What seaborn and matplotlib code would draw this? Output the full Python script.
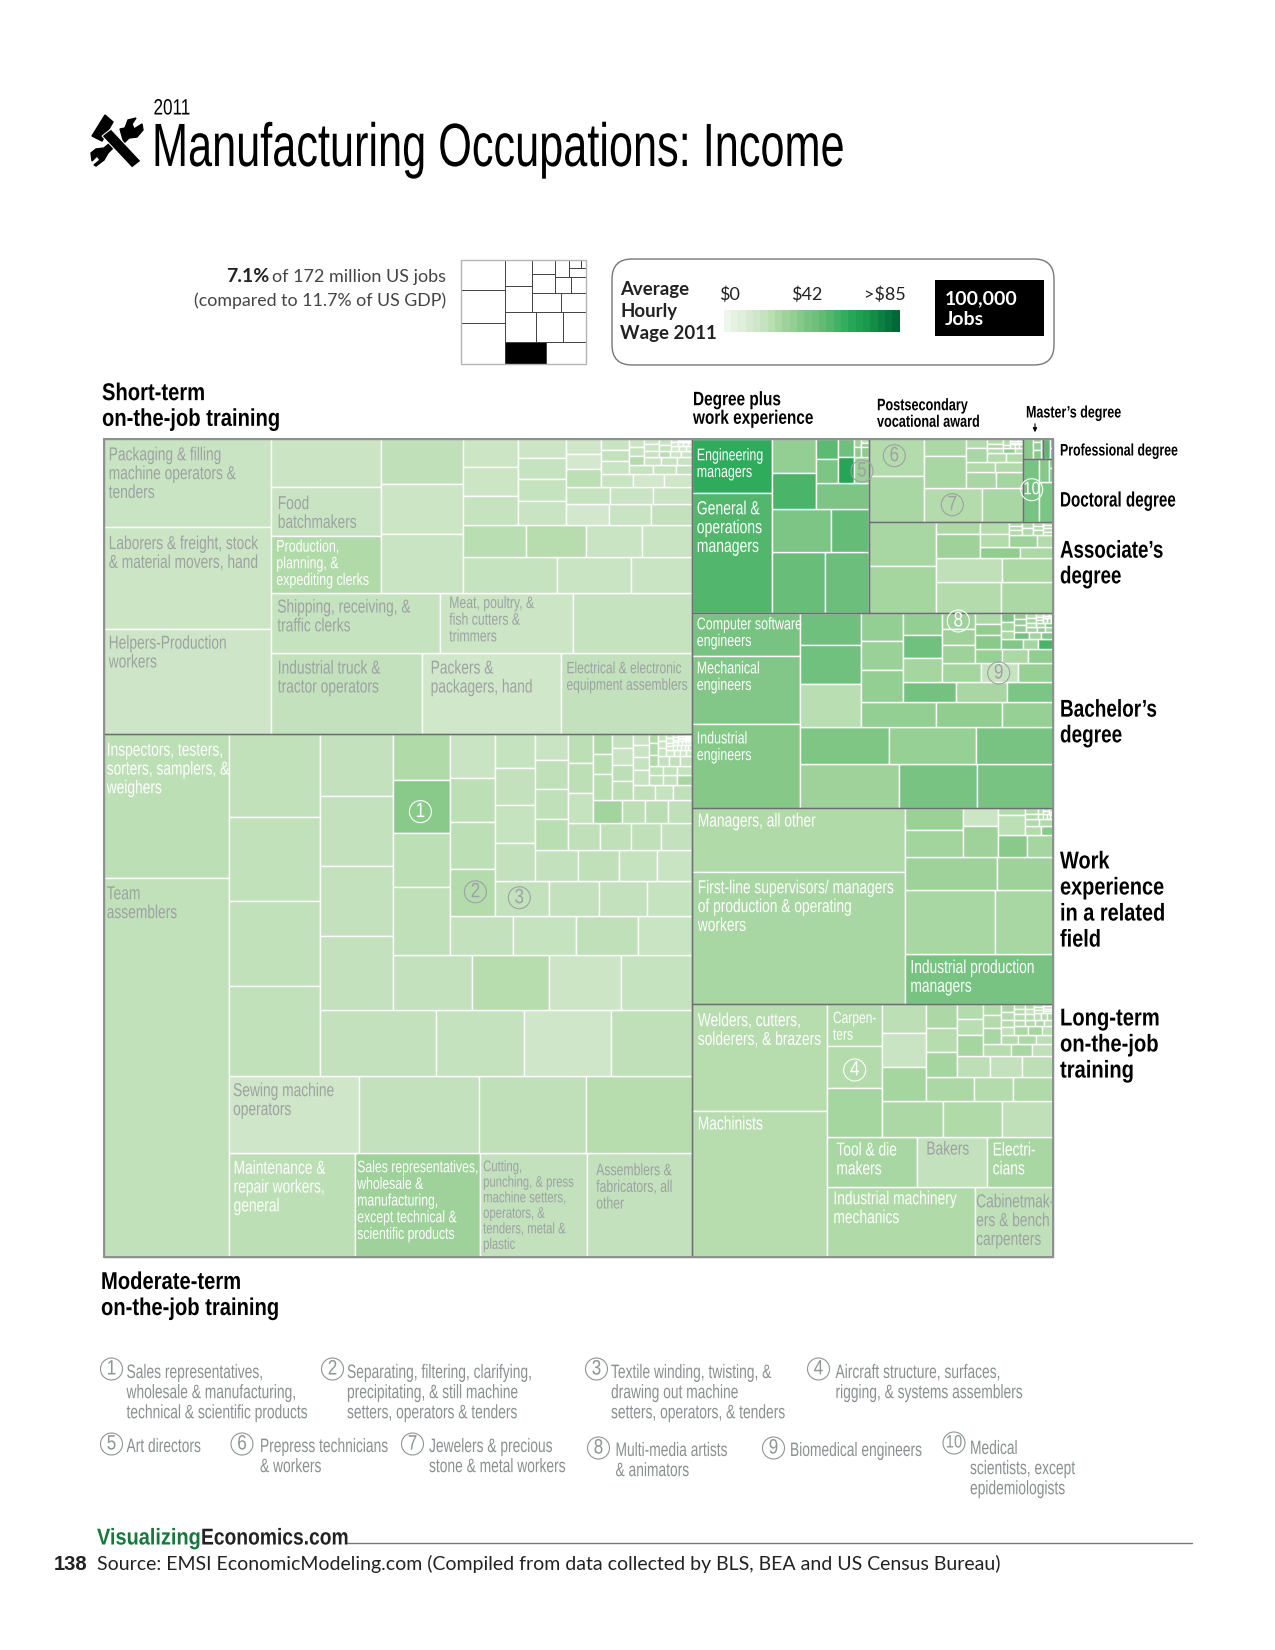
import numpy as np
import pandas as pd
import matplotlib
matplotlib.use("Agg")
import matplotlib.pyplot as plt
from matplotlib.patches import Circle, FancyBboxPatch, Polygon, Rectangle
from matplotlib.patheffects import AbstractPathEffect
from matplotlib.transforms import Affine2D, Bbox
import seaborn as sns

# ---------- data: thousands of jobs and average hourly wage, strip by strip ----------
short_sides = "LBBLLBBLLBBLBLBLBLBLBLBL"
short_jobs = [[230,264,274],[191,177,165],[159,125,111],[83,83,98],[58,64,75],[51,41,33],
              [31,30,28,25],[23.6,25,25],[14.1,15.1,16.8,18],[14.4,14,13.7],[11.7,11.4,10.4],
              [8.2,8.2,9.9],[6.6,6.5,5.8],[4.7,4.7,5.4],[3.2,3,2.1],[1.9,2.1,2.3],[2.1,2,1.9],
              [1.2,1.5,1.6],[1,1.1,1],[1,1.05],[.7,.6,.5],[.35,.35],[.3,.3,.25],[.2,.18,.17]]
short_wage = [[17,16,15.5],[19,14.5,19],[18,16,18],[16.5,17,25],[20,16,17],[18,17,17],
              [22,23,17,17],[16,16,18],[16,18,18,17],[14,17,19],[18,17,17],
              [15,13,21],[17,14,15],[17,19,17],[18,18,19],[17,18,24],[17,18,18],
              [16,17,18],[23,16,17],[17,18],[14,15,14],[14,15],[13,14,14],[12,13,14]]

moder_sides = "LBBLBLBLBLBLBLBLBLLBLBBLBLBLBLBL"
moder_jobs = [[283,742],[205,203,174,170],[157,146,129,128],[119,120,121,128],[118,90,89,83],
              [70,79,79,84],[69,66,63,61],[41,47,48,60],[39,38,38,33],[31,31,33,33],
              [29,27,26,24],[21.5,23,23.4,24],[21,20,18,17],[13.8,15,15.4,16],
              [13.4,13.3,12.6,12.8],[11.9,12,12],[10.4,8.5,8.5,8.5],[5.9,6.1,7.6],
              [4.6,5.4,5,5.9],[5.4,4.2,4.4],[2.9,2.9,3.2,3.6],[2.2,2.1,2.2],[2.1,2.1,2.1],
              [1.4,1.6,1.6],[1.7,1.7,1.7],[.9,1,1],[.7,.6,.6,.5],[.5,.5,.4,.4],
              [.35,.35,.3,.3,.3],[.25,.25,.2,.2],[.2,.2,.15,.15],[.2,.2,.2,.2],[.2,.2,.2,.2]]
moder_wage = [[21,19.5],[21,30,19,19],[15,19,20,23],[19.5,19.5,19.5,19.5],[19,18.5,15,20],
              [19,19,19,19],[19,23,16,18],[25,36,21,20],[19,18,20,17],[17,21,21,24],
              [19,19,19,18],[18,19,18,19],[19,20,18,17],[17,20,20,22],
              [20,20,20,19],[21,21,18],[29,21,22,20],[25,22,22],
              [19,17,21,21],[20,18,20],[17,17,18,18],[20,19,27],[20,19,18],
              [25,25,25],[19,20,19],[17,17,18],[15,15,16,15],[15,14,15,15],
              [15,15,14,15,14],[14,14,15,14],[14,13,14,14],[13,14,13,13],[13,13,14,13]]

degree_sides = "LBBLBLLBLL"
degree_jobs = [[68,151],[50,42],[39.4,25.5],[23.4,24.8],[21.4],[6.9,8.25],[4.5,6.5],[6],[.76,1.1],[.5,.5,1.25]]
degree_wage = [[60,52],[46,45],[40,47],[33,54],[40],[49,40],[44,64],[31],[30,35],[20,35,35]]

postsec_sides = "LBLBBLBBLLBLL"
postsec_jobs = [[32,39],[30,21.4],[10.9,21.2],[7.6,7.2],[4.5,4.4],[2.9,4.2],[2.5,2.26],
                [1.3,.9,.65],[1.1,1.2],[.55,.39],[.3,.3,.25],[.2,.2,.2],[.15,.13,.13]]
postsec_wage = [[24,27],[24,27],[26,27],[27,28],[25,25],[24,27],[24,24],
                [24,34,22],[24,26],[24,26],[22,24,26],[18,24,26],[18,24,26]]

doctor_sides = "LBLL"
doctor_jobs = [[15.5],[8.6],[3.3],[.6,1.05]]
doctor_wage = [[41],[40],[37],[38,38]]

master_sides = "LRL"
master_jobs = [[3.1],[.25,.3],[.3,1,1.1]]
master_wage = [[36],[30,30],[33,33,36]]

prof_sides = "LL"
prof_jobs = [[2.4],[.4,.53]]
prof_wage = [[49],[45,45]]

assoc_sides = "LBBLBLBLLLL"
assoc_jobs = [[46.6,49.8],[31.2,25.5],[24.8,19.1],[8.5,16.7],[7.3,6],[5.6,5.7],[5,3],
              [.88,.88,.95],[1.08,1.08],[.72,.72,.78],[.52,.52,.52,.52]]
assoc_wage = [[27,28],[24,26],[20,26],[26,30],[34,26],[24,24],[30,24],
              [25,25,25],[25,25],[25,24,25],[24,25,24,25]]

bach_sides = "LBBLBLBLBLBLBLBLBLBLBLL"
bach_jobs = [[73,115.5,142.6],[68,53.6,52.3],[51.5,50.3,44.5],[30.2,37.5,41],[29.9,26.6,20.5],
             [18.4,19,20.6],[16.4,15.9,14.6],[12.7,13.7,14.3],[11.4,10.6,10.1],[8.4,8.2,9.6],
             [5.8,5.8,5.5],[4.4,4.4,5.6],[3.5,2.3,2.3],[1.8,1.9,1.85],[1.6,1.3,1.35],
             [1.06,1,1.3],[.86,.65,.65],[.75,.75,.75],[.54,.54],[.38,.38,.38],[.3,.3,.2],[.25,.2],[.16,.15]]
bach_wage = [[41,38,37],[30,41,41],[39,32,41],[44,43,22],[33,34,32],
             [33,31,33],[42,27,40],[33,43,28],[28,18,32],[30,30,30],
             [32,26,34],[26,34,36],[38,28,54],[38,29,26],[42,29,38],
             [33,33,33],[30,35,28],[24,28,26],[30,40],[18,26,30],[24,26,24],[20,18],[16,18]]

work_sides = "LBBBLLBLBBLLBLL"
work_jobs = [[212.6,439.6],[115.6],[89.5,57.7],[47.4,28.9],[19.4,24.2],[9.85,17.3],[9.7,9.2],
             [2.5,8.6],[2.2,1.8],[1.5,1.46],[1.1,1.18],[.45,.41],[.3,.3,.25],[.25,.25],[.2,.12]]
work_wage = [[25,27],[41],[27,27],[30,30],[31,29],[16,30],[36,28],
             [24,21],[24,36],[25,25],[25,25],[24,25],[26,25,24],[22,24],[20,24]]

long_sides = "LBBLBLBLBLBLBLBBLLBLL"
long_jobs = [[227.5,308.8],[161,86],[71.25,54.9,52.8],[36.1,36.1,41.5],[33.4,31.9,28.3],
             [19.9,23.4,23.6],[18.25,14.8,15.2],[11.6,11.6,12.1],[10.7,10.3,10],[6,6.55,8.4],
             [5.5,4.3,4.2],[3.1,3.5,4.3],[2.5,2.5,2.5],[1.8,1.57,1.57,1.63],[1.8,1.7,1.5],
             [1.15,1.04,.9,.97],[.86,.92,.92],[.7,.7,.8],[.7,.6,.6],[.4,.4,.4],[.4,.4,.4,.35]]
long_wage = [[23,23],[25,20],[27,19,27],[24,24,28],[26,25,20],
             [21,17,28],[26,24,25],[26,23,28],[21,19,21],[24,22,28],
             [23,27,20],[25,24,27],[24,26,21],[26,24,24,20],[26,28,21],
             [24,25,26,21],[23,24,24],[24,20,24],[22,24,26],[22,24,22],[20,22,20,22]]

# all US jobs by sector, millions (small locator map)
mini_sides = "LBBLBLBLBLL"
mini_jobs = [[17.7,19.2,23.7],[12,11.8],[11.9,10.6,9.3],[8.9,9.2],[7.3,6.2],[4.3,5.9],[3.6,3.3],[3.2],[1.9],[1.3],[.6]]
mini_black = (1, 0)

block_data = {"short":(short_sides,short_jobs,short_wage),"moder":(moder_sides,moder_jobs,moder_wage),
              "long":(long_sides,long_jobs,long_wage),"work":(work_sides,work_jobs,work_wage),
              "bach":(bach_sides,bach_jobs,bach_wage),"degree":(degree_sides,degree_jobs,degree_wage),
              "assoc":(assoc_sides,assoc_jobs,assoc_wage),"postsec":(postsec_sides,postsec_jobs,postsec_wage),
              "master":(master_sides,master_jobs,master_wage),"prof":(prof_sides,prof_jobs,prof_wage),
              "doctor":(doctor_sides,doctor_jobs,doctor_wage)}
top_sides = "LBBBLBLTT"
top_groups = [["short","moder"],["long"],["work"],["bach"],["degree"],["assoc"],["postsec"],["master","prof"],["doctor"]]

wage_ramp = [0,4,7,11,15,18,22,26,30,33,37,41,44,48,52,56,59,63,67,70,74,78,81,85]
wage_ticks = ["$0","$42",">$85"]

WHITE, GRAY = "white", "#9da2a3"
cell_labels = [
 ("short",0,0,"Packaging & filling\nmachine operators &\ntenders",GRAY,13.5,5,8),
 ("short",0,1,"Laborers & freight, stock\n& material movers, hand",GRAY,13.5,5,8.6),
 ("short",0,2,"Helpers-Production\nworkers",GRAY,13.5,5,7),
 ("short",1,0,"Industrial truck &\ntractor operators",GRAY,13.5,7,8),
 ("short",1,1,"Packers &\npackagers, hand",GRAY,13.5,9,8),
 ("short",1,2,"Electrical & electronic\nequipment assemblers",GRAY,11.8,5,8.6),
 ("short",2,0,"Shipping, receiving, &\ntraffic clerks",GRAY,13.5,6.5,7),
 ("short",2,1,"Meat, poultry, &\nfish cutters &\ntrimmers",GRAY,12,9,3.5),
 ("short",3,1,"Food\nbatchmakers",GRAY,13.5,7,8.6),
 ("short",3,2,"Production,\nplanning, &\nexpediting clerks",WHITE,12.2,5.5,4),
 ("moder",0,0,"Inspectors, testers,\nsorters, samplers, &\nweighers",WHITE,13.5,3,9),
 ("moder",0,1,"Team\nassemblers",GRAY,13.5,3,8),
 ("moder",1,0,"Maintenance &\nrepair workers,\ngeneral",WHITE,13.5,4.5,7.5),
 ("moder",1,1,"Sales representatives,\nwholesale &\nmanufacturing,\nexcept technical &\nscientific products",WHITE,12,2,7),
 ("moder",1,2,"Cutting,\npunching, & press\nmachine setters,\noperators, &\ntenders, metal &\nplastic",GRAY,11.1,3,7),
 ("moder",1,3,"Assemblers &\nfabricators, all\nother",GRAY,12,9,10),
 ("moder",2,0,"Sewing machine\noperators",GRAY,13.5,4,7.5),
 ("degree",0,0,"Engineering\nmanagers",WHITE,12.2,5,9),
 ("degree",0,1,"General &\noperations\nmanagers",WHITE,13.7,5,8),
 ("bach",0,0,"Computer software\nengineers",WHITE,12.2,5,4),
 ("bach",0,1,"Mechanical\nengineers",WHITE,12.2,5,5),
 ("bach",0,2,"Industrial\nengineers",WHITE,12.2,5,7),
 ("work",0,0,"Managers, all other",WHITE,13.5,6,5),
 ("work",0,1,"First-line supervisors/ managers\nof production & operating\nworkers",WHITE,13.5,6,8),
 ("work",1,0,"Industrial production\nmanagers",WHITE,13.5,5,6),
 ("long",0,0,"Welders, cutters,\nsolderers, & brazers",WHITE,13.5,6,9),
 ("long",0,1,"Machinists",WHITE,13.5,6,5),
 ("long",1,0,"Industrial machinery\nmechanics",WHITE,13.5,6,4),
 ("long",1,1,"Cabinetmak-\ners & bench\ncarpenters",GRAY,13.5,1.5,7),
 ("long",2,0,"Tool & die\nmakers",WHITE,13.5,9,6),
 ("long",2,1,"Bakers",GRAY,13.5,9,5),
 ("long",2,2,"Electri-\ncians",WHITE,13.5,6,6),
 ("long",3,0,"Carpen-\nters",WHITE,11.8,5.5,7),
]
map_marks = [("1",420.4,811.6,WHITE),("2",475.4,891.8,GRAY),("3",519.3,897.7,GRAY),("4",854.7,1070,WHITE),
             ("5",862,471,GRAY),("6",894.3,455.7,GRAY),("7",952.3,504.7,GRAY),("8",958.3,621,WHITE),
             ("9",998.7,673,GRAY),("10",1031.7,489.7,WHITE)]
notes = [("1",111.5,1369,126.5,1375,"Sales representatives,\nwholesale & manufacturing,\ntechnical & scientific products"),
         ("2",332.5,1369,347,1375,"Separating, filtering, clarifying,\nprecipitating, & still machine\nsetters, operators & tenders"),
         ("3",596.5,1369,611,1375,"Textile winding, twisting, &\ndrawing out machine\nsetters, operators, & tenders"),
         ("4",818.5,1369,835.5,1375,"Aircraft structure, surfaces,\nrigging, & systems assemblers"),
         ("5",111.5,1444,126.5,1449,"Art directors"),
         ("6",242,1444,260,1449,"Prepress technicians\n& workers"),
         ("7",412.5,1444,429,1449,"Jewelers & precious\nstone & metal workers"),
         ("8",598.5,1448,615.5,1453,"Multi-media artists\n& animators"),
         ("9",773.5,1448,790,1453,"Biomedical engineers"),
         ("10",954,1443,970,1451,"Medical\nscientists, except\nepidemiologists")]
headings = [("Short-term\non-the-job training",102,406.5,17.5,.83,1.15),("Degree plus\nwork experience",693,410,14,.79,1.12),
            ("Postsecondary\nvocational award",877,414,12,.76,1.13),("Master\u2019s degree",1026,413,12,.75,1.1),
            ("Professional degree",1060,451,12,.74,1.1),("Doctoral degree",1060,501,15,.73,1.1),
            ("Associate\u2019s\ndegree",1060,564,17.5,.77,1.15),("Bachelor\u2019s\ndegree",1060,723,17.5,.78,1.15),
            ("Work\nexperience\nin a related\nfield",1060,901,17.5,.82,1.17),("Long-term\non-the-job\ntraining",1060,1045,17.5,.83,1.17),
            ("Moderate-term\non-the-job training",101,1295.5,17.5,.83,1.17)]

# ---------- theme ----------
sns.set_theme(style="white")
plt.rcParams["font.family"] = ["Liberation Sans", "DejaVu Sans"]
wage_cmap = sns.blend_palette(["#edf6ea","#cfe6c8","#b0daa8","#8ccb8c","#75c280","#5bb972","#2fad5c","#169449","#006837"], n_colors=256, as_cmap=True)
wage_stops = [0,15,25,35,42,50,60,72,85]
def wage_color(w):
    return wage_cmap(float(np.interp(w, wage_stops, np.linspace(0,1,len(wage_stops)))))

# condensed lettering: no condensed face is installed, so real text is narrowed as it is drawn
class Squeeze(AbstractPathEffect):
    def __init__(self, text, s, extent):
        super().__init__()
        self.text, self.s, self.extent = text, s, extent
    def draw_path(self, renderer, gc, tpath, affine, rgbFace=None):
        a = anchor_of(self.extent(renderer), self.text)
        squeezed = affine + Affine2D().translate(-a,0).scale(self.s,1).translate(a,0)
        renderer.draw_path(gc, tpath, squeezed, rgbFace)

def anchor_of(bb, t):
    ha = t.get_ha()
    return bb.x0 if ha == "left" else (bb.x1 if ha == "right" else (bb.x0+bb.x1)/2)

def squeeze(t, s):
    base = t.get_window_extent
    def extent(*a, **k):
        bb = base(*a, **k)
        c = anchor_of(bb, t)
        return Bbox.from_extents(c+(bb.x0-c)*s, bb.y0, c+(bb.x1-c)*s, bb.y1)
    t.set_path_effects([Squeeze(t, s, base)])
    t.get_window_extent = extent
    return t

# ---------- layout: cut strips off a rectangle, thickness proportional to jobs ----------
def carve(rect, sides, strips):
    x0, y0, x1, y1 = rect
    left = sum(sum(s) for s in strips)
    out = []
    for i, (side, strip) in enumerate(zip(sides, strips)):
        t = sum(strip) / left
        left -= sum(strip)
        if side == "L":
            box = (x0, y0, x0 + t*(x1-x0), y1); x0 = box[2]
        elif side == "R":
            box = (x1 - t*(x1-x0), y0, x1, y1); x1 = box[0]
        elif side == "T":
            box = (x0, y0, x1, y0 + t*(y1-y0)); y0 = box[3]
        else:
            box = (x0, y1 - t*(y1-y0), x1, y1); y1 = box[1]
        pos = 0.0
        for j, v in enumerate(strip):
            f0, f1 = pos/sum(strip), (pos+v)/sum(strip)
            pos += v
            if side in "LR":
                c = (box[0], box[1]+f0*(box[3]-box[1]), box[2], box[1]+f1*(box[3]-box[1]))
            else:
                c = (box[0]+f0*(box[2]-box[0]), box[1], box[0]+f1*(box[2]-box[0]), box[3])
            out.append((i, j, v) + c)
    return out

W, H = 949.6, 818.0
top_strips = [[sum(sum(s) for s in block_data[n][1]) for n in g] for g in top_groups]
top_cells = carve((0,0,W,H), top_sides, top_strips)
rows, blocks = [], {}
for i, j, v, a, b, c, d in top_cells:
    name = top_groups[i][j]
    blocks[name] = (a, b, c, d)
    sides, jobs, wages = block_data[name]
    for si, sj, val, x0, y0, x1, y1 in carve((a,b,c,d), sides, jobs):
        rows.append(dict(block=name, strip=si, item=sj, jobs=val, wage=wages[si][sj], x0=x0, y0=y0, x1=x1, y1=y1))
cells = pd.DataFrame(rows)

# ---------- figure ----------
fig = plt.figure(figsize=(12.75,16.5), dpi=100, facecolor="white")
def px_axes(x0, y0, x1, y1):
    return fig.add_axes([x0/1275, 1-y1/1650, (x1-x0)/1275, (y1-y0)/1650])

ax = px_axes(103.7, 439.3, 1053.3, 1257.3)
ax.set_xlim(0, W); ax.set_ylim(H, 0); ax.axis("off")
ax.bar(cells.x0, cells.y1-cells.y0, width=cells.x1-cells.x0, bottom=cells.y0, align="edge",
       color=[wage_color(w) for w in cells.wage], edgecolor="white", linewidth=1.0)
bl = pd.DataFrame(blocks, index=["x0","y0","x1","y1"]).T
ax.bar(bl.x0, bl.y1-bl.y0, width=bl.x1-bl.x0, bottom=bl.y0, align="edge", fill=False, edgecolor="#6b6f6f", linewidth=1.0, clip_on=False)
ax.bar([0], [H], width=[W], bottom=[0], align="edge", fill=False, edgecolor="#8d9191", linewidth=1.4, clip_on=False)

for name, si, sj, txt, col, size, dx, dy in cell_labels:
    c = cells[(cells.block==name)&(cells.strip==si)&(cells.item==sj)].iloc[0]
    squeeze(ax.annotate(txt, xy=(c.x0, c.y0), xytext=(dx*.72, -dy*.72), textcoords="offset points",
                        ha="left", va="top", color=col, fontsize=size, linespacing=1.14), .735)

# overlay in page pixels
pg = fig.add_axes([0,0,1,1], zorder=5)
pg.set_xlim(0,1275); pg.set_ylim(1650,0); pg.axis("off"); pg.patch.set_alpha(0)

for n, x, y, col in map_marks:
    pg.add_patch(Circle((x,y), 11, fill=False, edgecolor=col, linewidth=.8))
    squeeze(pg.text(x, y, n, ha="center", va="center", color=col, fontsize=15 if len(n)==1 else 13), .82)

# title
squeeze(pg.text(153.5, 109, "2011", fontsize=16, va="center", color="black"), .77)
squeeze(pg.text(152, 166, "Manufacturing Occupations: Income", fontsize=44, va="baseline", color="black"), .708)
pg.add_patch(Polygon(np.array([[92,136],[105,115],[113,122],[102,141]]), color="black"))
pg.add_patch(Polygon(np.array([[120,129],[125,128],[128,120],[136,118],[132,124],[134,129],[142,124],[143,130],[137,137],[129,138],[124,143]]), color="black"))
pg.add_patch(Polygon(np.array([[114,147],[108,153],[104,160],[96,166],[94,165],[100,160],[97,156],[92,161],[91,153],[96,149],[104,148],[110,143]]), color="black"))
pg.add_patch(Polygon(np.array([[102,136],[111,129],[141,161],[132,168]]), facecolor="black", edgecolor="white", linewidth=.8))

# share text and locator map
LATO = ["Lato","DejaVu Sans"]
pg.text(446, 277, "of 172 million US jobs", ha="right", va="center", fontsize=13, family=LATO, color="#444444")
pg.text(269, 277, "7.1%", ha="right", va="center", fontsize=14, weight="bold", family=LATO, color="#222222")
pg.text(446, 301, "(compared to 11.7% of US GDP)", ha="right", va="center", fontsize=12.8, family=LATO, color="#444444")
mx = px_axes(461.4, 260, 586.3, 364)
mx.set_xlim(0,1); mx.set_ylim(1,0); mx.axis("off")
mc = carve((0,0,1,1), mini_sides, mini_jobs)
mx.bar([c[3] for c in mc], [c[6]-c[4] for c in mc], width=[c[5]-c[3] for c in mc], bottom=[c[4] for c in mc], align="edge",
       color=["black" if (c[0],c[1])==mini_black else "white" for c in mc], edgecolor="#333333", linewidth=.6)
mx.bar([0],[1],width=[1],bottom=[0],align="edge",fill=False,edgecolor="#b5b5b5",linewidth=1,clip_on=False)

# legend
pg.add_patch(FancyBboxPatch((618,265),430,94, boxstyle="round,pad=6,rounding_size=20", fill=False, edgecolor="#777777", linewidth=1))
pg.text(620.5, 311.5, "Average\nHourly\nWage 2011", va="center", fontsize=13.4, weight="bold", linespacing=1.38, family=LATO, color="#222222")
for t, x in zip(wage_ticks, [729,807,885]):
    pg.text(x, 294.5, t, ha="center", va="center", fontsize=13, family=LATO, color="#222222")
lg = px_axes(723.6, 310, 899.7, 331.7)
sns.heatmap(np.array([wage_ramp]), ax=lg, cmap=wage_cmap, vmin=0, vmax=85, cbar=False, xticklabels=False, yticklabels=False)
for coll in lg.collections:
    coll.set_array(np.interp(np.array(wage_ramp,float), wage_stops, np.linspace(0,85,len(wage_stops))))
pg.add_patch(Rectangle((934.5,280),109.5,56,facecolor="black",edgecolor="none"))
pg.text(945, 309.5, "100,000\nJobs", color="white", va="center", fontsize=14, weight="bold", linespacing=1.27, family=LATO)

# group headings
for txt, x, y, size, s, ls in headings:
    squeeze(pg.text(x, y, txt, va="center", fontsize=size, weight="bold", linespacing=ls, color="black"), s)
pg.annotate("", xy=(1035,435), xytext=(1035,421), arrowprops=dict(arrowstyle="-|>", color="black", lw=.8, mutation_scale=6))

# footnotes
for n, cx, cy, tx, ty, txt in notes:
    pg.add_patch(Circle((cx,cy), 11, fill=False, edgecolor="#8f9495", linewidth=.8))
    squeeze(pg.text(cx, cy, n, ha="center", va="center", fontsize=15 if len(n)==1 else 13, color="#8f9495"), .82)
    squeeze(pg.text(tx, ty-10, txt, va="top", fontsize=14, linespacing=1.24, color="#8a8f90"), .71)

# footer
squeeze(pg.text(97, 1538, "Visualizing", va="center", fontsize=16.5, weight="bold", color="#15783c"), .87)
squeeze(pg.text(201, 1538, "Economics.com", va="center", fontsize=16.5, weight="bold", color="#222222"), .84)
pg.plot([347,1192],[1543,1543], color="#777777", lw=1)
pg.text(54, 1564, "138", va="center", fontsize=14.5, weight="bold", color="#222222")
pg.text(97, 1564, "Source: EMSI EconomicModeling.com (Compiled from data collected by BLS, BEA and US Census Bureau)", va="center", fontsize=14, family=LATO, color="#222222")

fig.savefig("out.png", dpi=100)
